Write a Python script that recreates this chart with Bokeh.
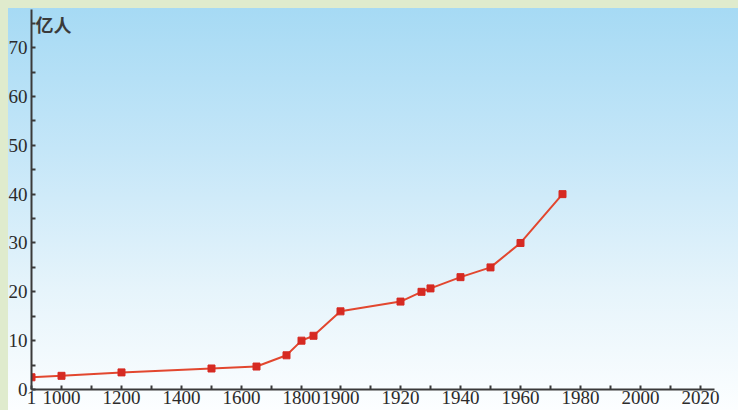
import numpy as np
from bokeh.plotting import figure
from bokeh.models import (ColumnDataSource, FixedTicker, Range1d, Label,
                          GlobalInlineStyleSheet)
from bokeh.embed import file_html
from bokeh.resources import INLINE

# ---- data ----
years = [1, 1000, 1200, 1500, 1650, 1750, 1800, 1830, 1900, 1920, 1927, 1930, 1940, 1950, 1960, 1974]
population = [2.5, 2.8, 3.5, 4.3, 4.7, 7, 10, 11, 16, 18, 20, 20.7, 23, 25, 30, 40]

# ---- broken (piecewise) x scale of the original axis ----
scale_years = [1, 1000, 1800, 1900, 2020]
scale_pos = [0, 30, 270, 309, 669]

tick_years = [1, 1000, 1200, 1400, 1600, 1800, 1900, 1920, 1940, 1960, 1980, 2000, 2020]
tick_labels = ["1", "1000", "1200", "1400", "1600", "1800", "1900", "1920", "1940", "1960", "1980", "2000", "2020"]
minor_years = [1100, 1300, 1500, 1700, 1910, 1930, 1950, 1970, 1990, 2010]
y_ticks = [0, 10, 20, 30, 40, 50, 60, 70]
y_minor = [5, 15, 25, 35, 45, 55, 65, 75]


def pos(y):
    return int(round(float(np.interp(y, scale_years, scale_pos))))


src = ColumnDataSource(dict(x=[pos(y) for y in years], y=population))

p = figure(width=738, height=410, output_backend="svg", toolbar_location=None,
           x_range=Range1d(0, 683), y_range=Range1d(0, 77.8),
           min_border_left=31, min_border_right=24, min_border_top=9, min_border_bottom=21)
p.stylesheets.append(GlobalInlineStyleSheet(css="body{background:#dfebcd;}"))
p.styles = {
    "background-color": "#dfebcd",
    "background-image": "linear-gradient(to bottom, #a6daf4 0%, #c4e6f8 35%, #e6f4fb 70%, #fcfeff 100%)",
    "background-position": "8px 8px",
    "background-size": "calc(100% - 8px) calc(100% - 8px)",
    "background-repeat": "no-repeat",
}
p.border_fill_color = None
p.background_fill_color = None
p.outline_line_color = None
p.grid.visible = False

ax_col = "#3a3a3a"
font = "Liberation Serif"

for ax in (p.xaxis[0], p.yaxis[0]):
    ax.axis_line_color = ax_col
    ax.axis_line_width = 2
    ax.major_tick_line_color = ax_col
    ax.minor_tick_line_color = ax_col
    ax.major_tick_line_width = 2
    ax.minor_tick_line_width = 2
    ax.major_tick_in = 4
    ax.major_tick_out = 0
    ax.minor_tick_in = 4
    ax.minor_tick_out = 0
    ax.major_label_text_font = font
    ax.major_label_text_font_size = "19px"
    ax.major_label_text_color = "#2b2b2b"

p.xaxis[0].ticker = FixedTicker(ticks=[pos(y) for y in tick_years],
                                minor_ticks=[pos(y) for y in minor_years])
p.xaxis[0].major_label_overrides = {pos(y): t for y, t in zip(tick_years, tick_labels)}
p.xaxis[0].major_label_standoff = 1
p.yaxis[0].ticker = FixedTicker(ticks=y_ticks, minor_ticks=y_minor)
p.yaxis[0].major_label_standoff = 4

p.line("x", "y", source=src, line_color="#e2472f", line_width=2)
p.scatter("x", "y", source=src, marker="square", size=7,
          fill_color="#d62a22", line_color="#d62a22")

p.add_layout(Label(x=4, y=72.2, text="亿人", text_font="Noto Sans CJK SC",
                   text_font_size="18px", text_color="#3a3a3a", text_font_style="bold"))
p.add_layout(Label(x=pos(2020) + 21, y=-2.2, text="年", text_font="Noto Sans CJK SC",
                   text_font_size="15px", text_color="#3a3a3a", text_baseline="middle"))

open("out.html", "w").write(file_html(p, INLINE))
